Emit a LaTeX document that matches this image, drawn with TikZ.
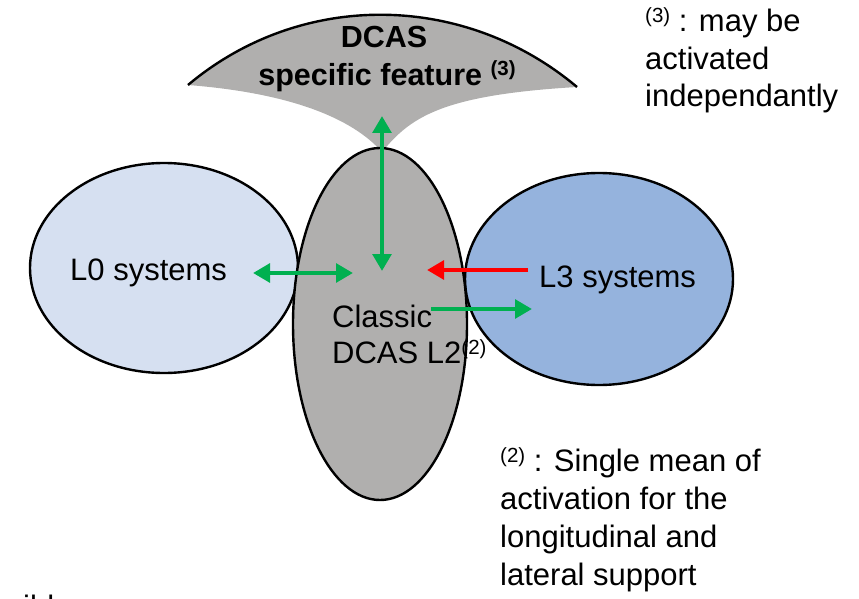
\documentclass[tikz,border=0pt]{standalone}
\usepackage{fontspec}
\setmainfont{Liberation Sans}
\usetikzlibrary{arrows.meta,shapes.geometric}
\definecolor{lzero}{RGB}{214,224,241}
\definecolor{lthree}{RGB}{149,179,221}
\definecolor{midgray}{RGB}{176,175,174}
\definecolor{arrgreen}{RGB}{0,176,80}
\definecolor{arrred}{RGB}{255,0,0}
\newcommand{\supnum}[1]{\raisebox{9pt}{\fontsize{20.5}{20.5}\selectfont(#1)}}
\newcommand{\supbold}[1]{\raisebox{10pt}{\fontsize{20.5}{20.5}\selectfont\bfseries(#1)}}
\begin{document}
\begin{tikzpicture}[x=1pt,y=-1pt,
  blob/.style={ellipse, draw=black, line width=2.4pt, inner sep=0pt},
  txt/.style={inner sep=0pt, anchor=base west, font=\fontsize{31}{37}\selectfont},
  btxt/.style={inner sep=0pt, anchor=base, font=\fontsize{30.5}{37}\selectfont\bfseries},
  garr/.style={line width=4.8pt, arrgreen, -{Triangle[length=17pt,width=18.5pt]}},
  gdarr/.style={line width=4.8pt, arrgreen, {Triangle[length=17pt,width=18.5pt]}-{Triangle[length=17pt,width=18.5pt]}},
  rarr/.style={line width=4.8pt, arrred, -{Triangle[length=17pt,width=18.5pt]}}]
\useasboundingbox (0,0) rectangle (859,599);
% side ellipses
\node[blob, fill=lzero, minimum width=268pt, minimum height=210pt] (lzero) at (164,268) {};
\node[blob, fill=lthree, minimum width=268pt, minimum height=212pt] (lthree) at (599,279) {};
% fan shape on top
\coordinate (fl) at (188,85);
\coordinate (fr) at (577,87);
\coordinate (fb) at (382,152);
\fill[midgray] (fl) .. controls (301,-10) and (464,-8) .. (fr)
   .. controls (440,95) and (410,118) .. (fb)
   .. controls (352,118) and (290,93) .. (fl) -- cycle;
\draw[line width=2.4pt] (fl) .. controls (301,-10) and (464,-8) .. (fr);
% central ellipse
\node[blob, fill=midgray, minimum width=174pt, minimum height=352pt] (mid) at (380,324) {};
% texts
\node[btxt] (dcas) at (384,48) {DCAS};
\node[btxt] (spec) at (387,86) {specific feature \supbold{3}};
\node[txt] (lzt) at (70,280) {L0 systems};
\node[txt] (ltt) at (539,287) {L3 systems};
\node[txt] (cl1) at (332,327) {Classic};
\node[txt] (cl2) at (332,363) {DCAS L2\supnum{2}};
\node[txt] (n3a) at (645,32) {\supnum{3} : may be};
\node[txt] (n3b) at (645,69.5) {activated};
\node[txt] (n3c) at (645,107) {independantly};
\node[txt] (n2a) at (500,471) {\supnum{2} : Single mean of};
\node[txt] (n2b) at (500,509) {activation for the};
\node[txt] (n2c) at (500,547) {longitudinal and};
\node[txt] (n2d) at (500,585) {lateral support};
\node[txt] (cut) at (23,617) {ible};
% arrows
\coordinate (vt) at (382,116);
\coordinate (vb) at (382,271);
\coordinate (hl) at (253,273);
\coordinate (hr) at (353,273);
\coordinate (rs) at (528,270);
\coordinate (re) at (427,270);
\coordinate (gs) at (431,309);
\coordinate (ge) at (532,309);
\draw[gdarr] (vt) -- (vb);
\draw[gdarr] (hl) -- (hr);
\draw[rarr] (rs) -- (re);
\draw[garr] (gs) -- (ge);
\end{tikzpicture}
\end{document}
